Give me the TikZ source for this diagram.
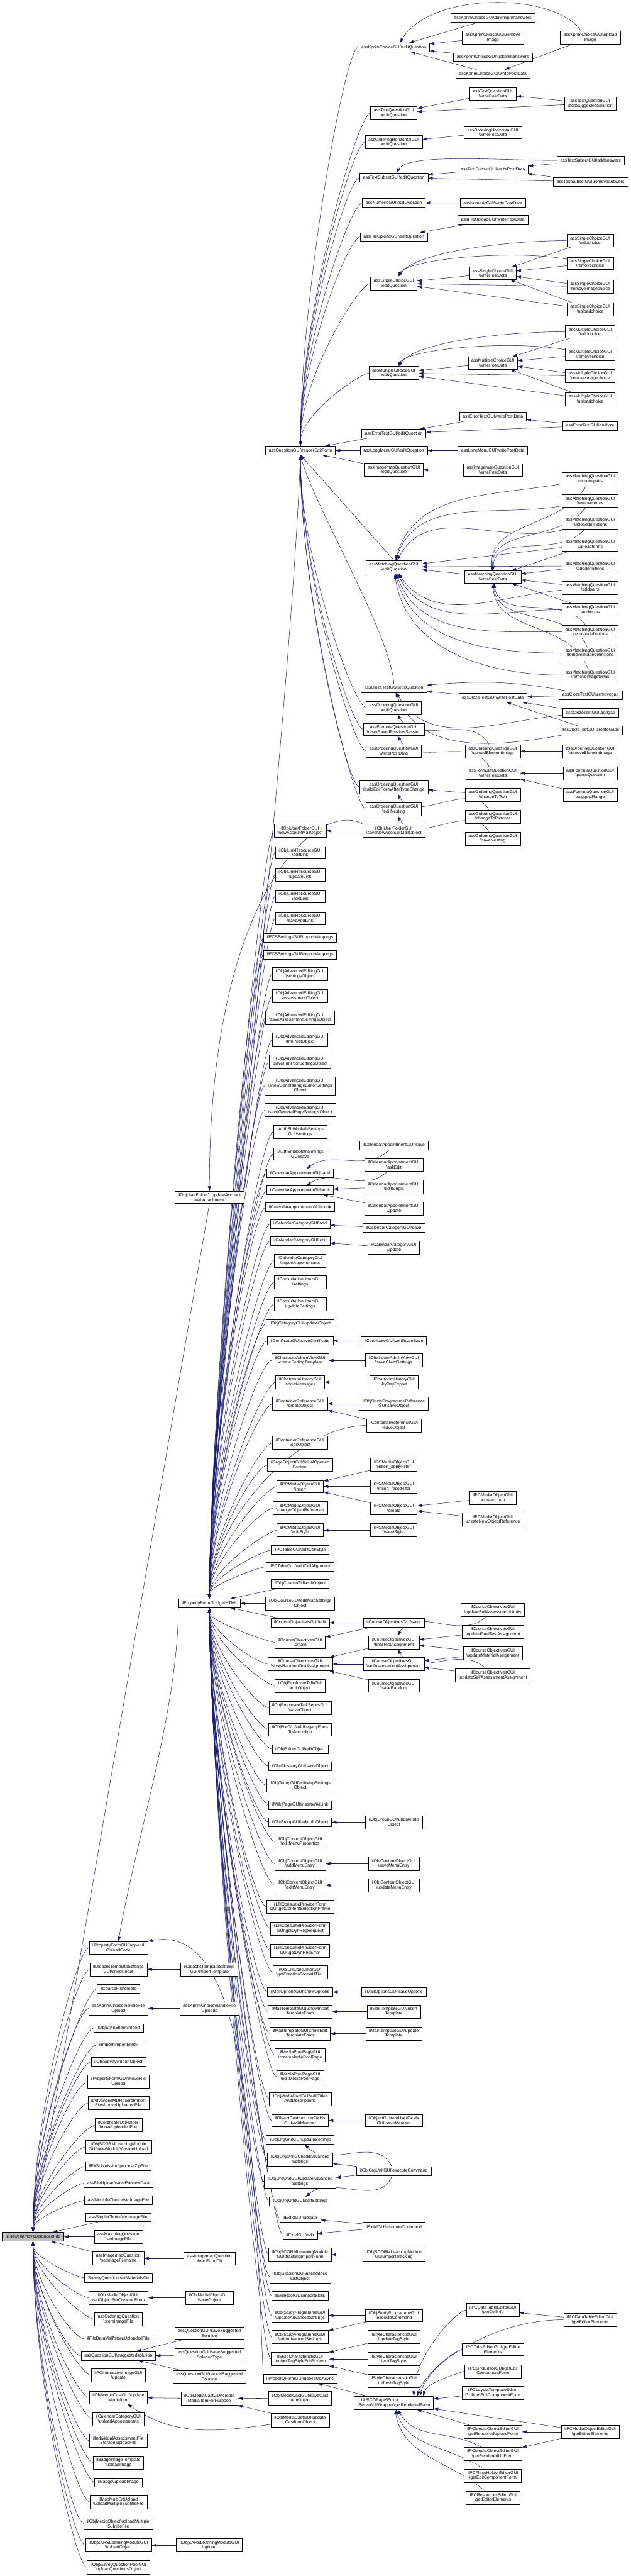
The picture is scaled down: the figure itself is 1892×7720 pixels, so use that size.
\documentclass[tikz,border=0pt]{standalone}
\usepackage{fontspec}
\setmainfont{Liberation Sans}
\usetikzlibrary{arrows.meta,backgrounds,calc}
\definecolor{edgeblue}{RGB}{25,25,112}
\newcommand{\bsl}{\textbackslash}

\begin{document}
\begin{tikzpicture}[x=0.5pt, y=0.5pt, line join=round,
  func/.style={draw=black, fill=white, line width=0.5pt, align=center,
    font=\fontsize{6.5}{7.25}\selectfont, inner xsep=5pt, inner ysep=3.25pt, minimum height=13pt},
  rootfunc/.style={func, fill=black!25},
  call/.style={draw=edgeblue, line width=0.5pt, -{Triangle[length=7pt,width=4.5pt]}},
  fromabove/.style={to path={.. controls +(-40,-8) and ($(\tikztotarget)+(0,#1)$) .. (\tikztotarget)}},
  frombelow/.style={to path={.. controls +(-40,8) and ($(\tikztotarget)+(0,-#1)$) .. (\tikztotarget)}}]
  \useasboundingbox (0,0) rectangle (1892,-7720);

  % ========================================================
  % 1. QUESTION EDITORS (top right)
  % ========================================================
  \node[func] (kDown)   at (1478,-54)  {assKprimChoiceGUI\bsl downkprimanswers};
  \node[func] (kRemove) at (1478,-112) {assKprimChoiceGUI\bsl remove\\Image};
  \node[func] (kUpload) at (1770,-112) {assKprimChoiceGUI\bsl upload\\Image};
  \node[func] (kEdit)   at (1181,-142) {assKprimChoiceGUI\bsl editQuestion};
  \node[func] (kUp)     at (1478,-171) {assKprimChoiceGUI\bsl upkprimanswers};
  \node[func] (kWrite)  at (1478,-222) {assKprimChoiceGUI\bsl writePostData};

  \node[func] (tqWrite) at (1478,-281) {assTextQuestionGUI\\\bsl writePostData};
  \node[func] (tqAdd)   at (1770,-310) {assTextQuestionGUI\\\bsl addSuggestedSolution};
  \node[func] (tqEdit)  at (1181,-338) {assTextQuestionGUI\\\bsl editQuestion};

  \node[func] (ohWrite) at (1478,-397) {assOrderingHorizontalGUI\\\bsl writePostData};
  \node[func] (ohEdit)  at (1181,-426) {assOrderingHorizontalGUI\\\bsl editQuestion};

  \node[func] (tsAdd)    at (1771,-481) {assTextSubsetGUI\bsl addanswers};
  \node[func] (tsWrite)  at (1478,-507) {assTextSubsetGUI\bsl writePostData};
  \node[func] (tsEdit)   at (1181,-532) {assTextSubsetGUI\bsl editQuestion};
  \node[func] (tsRemove) at (1771,-545) {assTextSubsetGUI\bsl removeanswers};

  \node[func] (nuEdit)  at (1181,-608) {assNumericGUI\bsl editQuestion};
  \node[func] (nuWrite) at (1478,-608) {assNumericGUI\bsl writePostData};

  \node[func] (fuWrite) at (1478,-659) {assFileUploadGUI\bsl writePostData};
  \node[func] (fuEdit)  at (1181,-710) {assFileUploadGUI\bsl editQuestion};

  \node[func] (scAdd)    at (1770,-721) {assSingleChoiceGUI\\\bsl addchoice};
  \node[func] (scRemove) at (1770,-789) {assSingleChoiceGUI\\\bsl removechoice};
  \node[func] (scWrite)  at (1478,-819) {assSingleChoiceGUI\\\bsl writePostData};
  \node[func] (scEdit)   at (1181,-849) {assSingleChoiceGUI\\\bsl editQuestion};
  \node[func] (scRemImg) at (1770,-859) {assSingleChoiceGUI\\\bsl removeimagechoice};
  \node[func] (scUpload) at (1770,-927) {assSingleChoiceGUI\\\bsl uploadchoice};

  \node[func] (mcAdd)    at (1770,-994)  {assMultipleChoiceGUI\\\bsl addchoice};
  \node[func] (mcRemove) at (1770,-1061) {assMultipleChoiceGUI\\\bsl removechoice};
  \node[func] (mcWrite)  at (1478,-1088) {assMultipleChoiceGUI\\\bsl writePostData};
  \node[func] (mcEdit)   at (1181,-1118) {assMultipleChoiceGUI\\\bsl editQuestion};
  \node[func] (mcRemImg) at (1770,-1127) {assMultipleChoiceGUI\\\bsl removeimagechoice};
  \node[func] (mcUpload) at (1770,-1196) {assMultipleChoiceGUI\\\bsl uploadchoice};

  \node[func] (etWrite)   at (1478,-1248) {assErrorTextGUI\bsl writePostData};
  \node[func] (etAnalyze) at (1770,-1276) {assErrorTextGUI\bsl analyze};
  \node[func] (etEdit)    at (1181,-1299) {assErrorTextGUI\bsl editQuestion};

  \node[func] (renderEF) at (901,-1350)  {assQuestionGUI\bsl renderEditForm};
  \node[func] (lmEdit)   at (1181,-1350) {assLongMenuGUI\bsl editQuestion};
  \node[func] (lmWrite)  at (1478,-1350) {assLongMenuGUI\bsl writePostData};
  \node[func] (imEdit)   at (1181,-1408) {assImagemapQuestionGUI\\\bsl editQuestion};
  \node[func] (imWrite)  at (1478,-1408) {assImagemapQuestionGUI\\\bsl writePostData};

  \node[func] (maRemPairs)    at (1770,-1435) {assMatchingQuestionGUI\\\bsl removepairs};
  \node[func] (maRemTerms)    at (1770,-1501) {assMatchingQuestionGUI\\\bsl removeterms};
  \node[func] (maUpDefs)      at (1770,-1566) {assMatchingQuestionGUI\\\bsl uploaddefinitions};
  \node[func] (maUpTerms)     at (1770,-1631) {assMatchingQuestionGUI\\\bsl uploadterms};
  \node[func] (maAddDefs)     at (1770,-1696) {assMatchingQuestionGUI\\\bsl adddefinitions};
  \node[func] (maAddPairs)    at (1770,-1761) {assMatchingQuestionGUI\\\bsl addpairs};
  \node[func] (maAddTerms)    at (1770,-1827) {assMatchingQuestionGUI\\\bsl addterms};
  \node[func] (maRemDefs)     at (1770,-1893) {assMatchingQuestionGUI\\\bsl removedefinitions};
  \node[func] (maRemImgDefs)  at (1770,-1957) {assMatchingQuestionGUI\\\bsl removeimagedefinitions};
  \node[func] (maRemImgTerms) at (1770,-2023) {assMatchingQuestionGUI\\\bsl removeimageterms};
  \node[func] (maEdit)  at (1181,-1699) {assMatchingQuestionGUI\\\bsl editQuestion};
  \node[func] (maWrite) at (1478,-1729) {assMatchingQuestionGUI\\\bsl writePostData};

  \node[func] (czEdit)   at (1181,-2062) {assClozeTestGUI\bsl editQuestion};
  \node[func] (czRemGap) at (1771,-2083) {assClozeTestGUI\bsl removegap};
  \node[func] (czWrite)  at (1478,-2091) {assClozeTestGUI\bsl writePostData};
  \node[func] (czAddGap) at (1771,-2136) {assClozeTestGUI\bsl addgap};
  \node[func] (czCreate) at (1771,-2188) {assClozeTestGUI\bsl createGaps};

  \node[func] (oqEdit)     at (1181,-2121) {assOrderingQuestionGUI\\\bsl editQuestion};
  \node[func] (fqReset)    at (1181,-2186) {assFormulaQuestionGUI\\\bsl resetSavedPreviewSession};
  \node[func] (oqWrite)    at (1181,-2251) {assOrderingQuestionGUI\\\bsl writePostData};
  \node[func] (oqUpImg)    at (1478,-2251) {assOrderingQuestionGUI\\\bsl uploadElementImage};
  \node[func] (oqRemImg)   at (1770,-2251) {assOrderingQuestionGUI\\\bsl removeElementImage};
  \node[func] (fqWrite)    at (1478,-2317) {assFormulaQuestionGUI\\\bsl writePostData};
  \node[func] (fqParse)    at (1770,-2317) {assFormulaQuestionGUI\\\bsl parseQuestion};
  \node[func] (oqBuild)    at (1181,-2359) {assOrderingQuestionGUI\\\bsl buildEditFormAfterTypeChange};
  \node[func] (oqToText)   at (1478,-2382) {assOrderingQuestionGUI\\\bsl changeToText};
  \node[func] (fqSuggest)  at (1770,-2382) {assFormulaQuestionGUI\\\bsl suggestRange};
  \node[func] (oqEditNest) at (1181,-2425) {assOrderingQuestionGUI\\\bsl editNesting};
  \node[func] (oqToPics)   at (1478,-2447) {assOrderingQuestionGUI\\\bsl changeToPictures};
  \node[func] (oqSaveNest) at (1478,-2513) {assOrderingQuestionGUI\\\bsl saveNesting};

  % ========================================================
  % 2. CALLERS OF getHTML (middle column)
  % ========================================================
  \node[func] (ufNewMail)  at (900,-2490)  {ilObjUserFolderGUI\\\bsl newAccountMailObject};
  \node[func] (ufSaveMail) at (1181,-2490) {ilObjUserFolderGUI\\\bsl saveNewAccountMailObject};
  \node[func] (lrEdit)    at (900,-2555) {ilObjLinkResourceGUI\\\bsl editLink};
  \node[func] (lrUpdate)  at (900,-2621) {ilObjLinkResourceGUI\\\bsl updateLink};
  \node[func] (lrAdd)     at (900,-2686) {ilObjLinkResourceGUI\\\bsl addLink};
  \node[func] (lrSaveAdd) at (900,-2752) {ilObjLinkResourceGUI\\\bsl saveAddLink};
  \node[func] (ecsImport) at (900,-2810) {ilECSSettingsGUI\bsl importMappings};
  \node[func] (ecsExport) at (900,-2861) {ilECSSettingsGUI\bsl exportMappings};
  \node[func] (aeSettings)   at (900,-2919) {ilObjAdvancedEditingGUI\\\bsl settingsObject};
  \node[func] (aeAssess)     at (900,-2985) {ilObjAdvancedEditingGUI\\\bsl assessmentObject};
  \node[func] (aeSaveAssess) at (900,-3050) {ilObjAdvancedEditingGUI\\\bsl saveAssessmentSettingsObject};
  \node[func] (aeFrmPost)    at (900,-3115) {ilObjAdvancedEditingGUI\\\bsl frmPostObject};
  \node[func] (aeSaveFrm)    at (900,-3181) {ilObjAdvancedEditingGUI\\\bsl saveFrmPostSettingsObject};
  \node[func] (aeShowGP)     at (900,-3254) {ilObjAdvancedEditingGUI\\\bsl showGeneralPageEditorSettings\\Object};
  \node[func] (aeSaveGP)     at (900,-3327) {ilObjAdvancedEditingGUI\\\bsl saveGeneralPageSettingsObject};
  \node[func] (shibSettings) at (900,-3392) {ilAuthShibbolethSettings\\GUI\bsl settings};
  \node[func] (shibSave)     at (900,-3458) {ilAuthShibbolethSettings\\GUI\bsl save};

  \node[func] (caSave)       at (1181,-3432) {ilCalendarAppointmentGUI\bsl save};
  \node[func] (caAskEdit)    at (1181,-3491) {ilCalendarAppointmentGUI\\\bsl askEdit};
  \node[func] (caAdd)        at (900,-3516)  {ilCalendarAppointmentGUI\bsl add};
  \node[func] (caEditSingle) at (1181,-3557) {ilCalendarAppointmentGUI\\\bsl editSingle};
  \node[func] (caEdit)       at (900,-3567)  {ilCalendarAppointmentGUI\bsl edit};
  \node[func] (ufUpdAttach)  at (628,-3588)  {ilObjUserFolder\bsl\_updateAccount\\MailAttachment};
  \node[func] (caBook)       at (900,-3618)  {ilCalendarAppointmentGUI\bsl book};
  \node[func] (caUpdate)     at (1181,-3622) {ilCalendarAppointmentGUI\\\bsl update};
  \node[func] (ccAdd)    at (900,-3668)  {ilCalendarCategoryGUI\bsl add};
  \node[func] (ccSave)   at (1181,-3680) {ilCalendarCategoryGUI\bsl save};
  \node[func] (ccEdit)   at (900,-3719)  {ilCalendarCategoryGUI\bsl edit};
  \node[func] (ccUpdate) at (1181,-3739) {ilCalendarCategoryGUI\\\bsl update};
  \node[func] (ccImport) at (900,-3778)  {ilCalendarCategoryGUI\\\bsl importAppointments};
  \node[func] (chSettings) at (900,-3843) {ilConsultationHoursGUI\\\bsl settings};
  \node[func] (chUpdate)   at (900,-3908) {ilConsultationHoursGUI\\\bsl updateSettings};
  \node[func] (catUpdate)  at (900,-3967) {ilObjCategoryGUI\bsl updateObject};
  \node[func] (certSave)     at (900,-4018)  {ilCertificateGUI\bsl saveCertificate};
  \node[func] (certCertSave) at (1181,-4018) {ilCertificateGUI\bsl certificateSave};
  \node[func] (chatCreate)     at (900,-4077)  {ilChatroomAdminViewGUI\\\bsl createSettingTemplate};
  \node[func] (chatSaveClient) at (1181,-4077) {ilChatroomAdminViewGUI\\\bsl saveClientSettings};
  \node[func] (chatShow)  at (900,-4142)  {ilChatroomHistoryGUI\\\bsl showMessages};
  \node[func] (chatByDay) at (1181,-4142) {ilChatroomHistoryGUI\\\bsl byDayExport};
  \node[func] (crCreate)  at (900,-4207)  {ilContainerReferenceGUI\\\bsl createObject};
  \node[func] (spRefSave) at (1181,-4207) {ilObjStudyProgrammeReference\\GUI\bsl saveObject};
  \node[func] (crSave)    at (1181,-4272) {ilContainerReferenceGUI\\\bsl saveObject};
  \node[func] (crEdit)    at (900,-4324)  {ilContainerReferenceGUI\\\bsl editObject};
  \node[func] (pgInitial) at (900,-4390)  {ilPageObjectGUI\bsl initialOpened\\Content};
  \node[func] (pcmoApply)     at (1181,-4390) {ilPCMediaObjectGUI\\\bsl insert\_applyFilter};
  \node[func] (pcmoInsert)    at (900,-4455)  {ilPCMediaObjectGUI\\\bsl insert};
  \node[func] (pcmoReset)     at (1181,-4455) {ilPCMediaObjectGUI\\\bsl insert\_resetFilter};
  \node[func] (pcmoCreateMob) at (1478,-4489) {ilPCMediaObjectGUI\\\bsl create\_mob};
  \node[func] (pcmoCreate)    at (1181,-4520) {ilPCMediaObjectGUI\\\bsl create};
  \node[func] (pcmoChange)    at (900,-4520)  {ilPCMediaObjectGUI\\\bsl changeObjectReference};
  \node[func] (pcmoNewRef)    at (1478,-4554) {ilPCMediaObjectGUI\\\bsl createNewObjectReference};
  \node[func] (pcmoEditStyle) at (900,-4586)  {ilPCMediaObjectGUI\\\bsl editStyle};
  \node[func] (pcmoSaveStyle) at (1181,-4586) {ilPCMediaObjectGUI\\\bsl saveStyle};
  \node[func] (pctCellStyle) at (900,-4645) {ilPCTableGUI\bsl editCellStyle};
  \node[func] (pctCellAlign) at (900,-4695) {ilPCTableGUI\bsl editCellAlignment};
  \node[func] (crsEdit)      at (900,-4746) {ilObjCourseGUI\bsl editObject};

  \node[func] (getHTML)    at (628,-4805) {ilPropertyFormGUI\bsl getHTML};
  \node[func] (crsEditMap) at (900,-4805) {ilObjCourseGUI\bsl editMapSettings\\Object};

  \node[func] (coLimits)     at (1478,-4824) {ilCourseObjectivesGUI\\\bsl updateSelfAssessmentLimits};
  \node[func] (coEdit)       at (900,-4863)  {ilCourseObjectivesGUI\bsl edit};
  \node[func] (coSave)       at (1181,-4863) {ilCourseObjectivesGUI\bsl save};
  \node[func] (coFinalUpd)   at (1478,-4890) {ilCourseObjectivesGUI\\\bsl updateFinalTestAssignment};
  \node[func] (coCreate)     at (900,-4922)  {ilCourseObjectivesGUI\\\bsl create};
  \node[func] (coFinal)      at (1181,-4922) {ilCourseObjectivesGUI\\\bsl finalTestAssignment};
  \node[func] (coMaterial)   at (1478,-4955) {ilCourseObjectivesGUI\\\bsl updateMaterialAssignment};
  \node[func] (coShowRandom) at (900,-4987)  {ilCourseObjectivesGUI\\\bsl showRandomTestAssignment};
  \node[func] (coSelf)       at (1181,-4987) {ilCourseObjectivesGUI\\\bsl selfAssessmentAssignment};
  \node[func] (coSelfUpd)    at (1478,-5021) {ilCourseObjectivesGUI\\\bsl updateSelfAssessmentAssignment};
  \node[func] (coSaveRandom) at (1181,-5052) {ilCourseObjectivesGUI\\\bsl saveRandom};
  \node[func] (etkEdit)      at (900,-5052)  {ilObjEmployeeTalkGUI\\\bsl editObject};
  \node[func] (etsSave)      at (900,-5118)  {ilObjEmployeeTalkSeriesGUI\\\bsl saveObject};
  \node[func] (fileLegacy)   at (900,-5183)  {ilObjFileGUI\bsl addLegacyForm\\ToAccordion};
  \node[func] (folderEdit)   at (900,-5242)  {ilObjFolderGUI\bsl editObject};
  \node[func] (glossSave)    at (900,-5293)  {ilObjGlossaryGUI\bsl saveObject};
  \node[func] (grpEditMap)   at (900,-5351)  {ilObjGroupGUI\bsl editMapSettings\\Object};
  \node[func] (wikiLink)     at (900,-5409)  {ilWikiPageGUI\bsl insertWikiLink};
  \node[func] (grpEditInfo)  at (900,-5461)  {ilObjGroupGUI\bsl editInfoObject};
  \node[func] (grpUpdInfo)   at (1181,-5461) {ilObjGroupGUI\bsl updateInfo\\Object};
  \node[func] (cobEditProps) at (900,-5519)  {ilObjContentObjectGUI\\\bsl editMenuProperties};
  \node[func] (cobAddEntry)  at (900,-5585)  {ilObjContentObjectGUI\\\bsl addMenuEntry};
  \node[func] (cobSaveEntry) at (1181,-5585) {ilObjContentObjectGUI\\\bsl saveMenuEntry};
  \node[func] (cobEditEntry) at (900,-5650)  {ilObjContentObjectGUI\\\bsl editMenuEntry};
  \node[func] (cobUpdEntry)  at (1181,-5650) {ilObjContentObjectGUI\\\bsl updateMenuEntry};
  \node[func] (ltiSelFrame)  at (900,-5715)  {ilLTIConsumeProviderForm\\GUI\bsl getContentSelectionFrame};
  \node[func] (ltiRegReq)    at (900,-5780)  {ilLTIConsumeProviderForm\\GUI\bsl getDynRegRequest};
  \node[func] (ltiRegErr)    at (900,-5846)  {ilLTIConsumeProviderForm\\GUI\bsl getDynRegError};
  \node[func] (ltiCreation)  at (900,-5911)  {ilObjLTIConsumerGUI\\\bsl getCreationFormsHTML};
  \node[func] (mailShow)     at (900,-5970)  {ilMailOptionsGUI\bsl showOptions};
  \node[func] (mailSave)     at (1181,-5970) {ilMailOptionsGUI\bsl saveOptions};
  \node[func] (mtShowInsert) at (900,-6028)  {ilMailTemplateGUI\bsl showInsert\\TemplateForm};
  \node[func] (mtInsert)     at (1181,-6028) {ilMailTemplateGUI\bsl insert\\Template};
  \node[func] (mtShowEdit)   at (900,-6094)  {ilMailTemplateGUI\bsl showEdit\\TemplateForm};
  \node[func] (mtUpdate)     at (1181,-6094) {ilMailTemplateGUI\bsl update\\Template};
  \node[func] (mpCreate)     at (900,-6159)  {ilMediaPoolPageGUI\\\bsl createMediaPoolPage};
  \node[func] (mpEdit)       at (900,-6224)  {ilMediaPoolPageGUI\\\bsl editMediaPoolPage};
  \node[func] (mpTitles)     at (900,-6290)  {ilObjMediaPoolGUI\bsl editTitles\\AndDescriptions};
  \node[func] (cufEdit)      at (900,-6355)  {ilObjectCustomUserFields\\GUI\bsl editMember};
  \node[func] (cufSave)      at (1181,-6355) {ilObjectCustomUserFields\\GUI\bsl saveMember};
  \node[func] (ouUpdSet)     at (900,-6413)  {ilObjOrgUnitGUI\bsl updateSettings};
  \node[func] (ouEditAdv)    at (900,-6472)  {ilObjOrgUnitGUI\bsl editAdvanced\\Settings};
  \node[func] (ouExec)       at (1181,-6506) {ilObjOrgUnitGUI\bsl executeCommand};
  \node[func] (ouUpdAdv)     at (900,-6538)  {ilObjOrgUnitGUI\bsl updateAdvanced\\Settings};
  \node[func] (ouEditSet)    at (900,-6597)  {ilObjOrgUnitGUI\bsl editSettings};
  \node[func] (extUpdate)    at (900,-6647)  {ilExtIdGUI\bsl update};
  \node[func] (extExec)      at (1181,-6673) {ilExtIdGUI\bsl executeCommand};
  \node[func] (extEdit)      at (900,-6698)  {ilExtIdGUI\bsl edit};
  \node[func] (scormTrackForm)   at (900,-6757)  {ilObjSCORMLearningModule\\GUI\bsl trackingImportForm};
  \node[func] (scormImportTrack) at (1181,-6757) {ilObjSCORMLearningModule\\GUI\bsl importTracking};
  \node[func] (sessAttend)   at (900,-6822)  {ilObjSessionGUI\bsl attendance\\ListObject};
  \node[func] (skillImport)  at (900,-6880)  {ilSkillRootGUI\bsl importSkills};
  \node[func] (prgUpdAdv)    at (900,-6939)  {ilObjStudyProgrammeGUI\\\bsl updateAdvancedSettings};
  \node[func] (prgExec)      at (1181,-6939) {ilObjStudyProgrammeGUI\\\bsl executeCommand};
  \node[func] (prgEditAdv)   at (900,-7004)  {ilObjStudyProgrammeGUI\\\bsl editAdvancedSettings};
  \node[func] (stUpdTag)     at (1181,-7004) {ilStyleCharacteristicGUI\\\bsl updateTagStyle};
  \node[func] (stOutput)     at (900,-7070)  {ilStyleCharacteristicGUI\\\bsl outputTagStyleEditScreen};
  \node[func] (stEditTag)    at (1181,-7070) {ilStyleCharacteristicGUI\\\bsl editTagStyle};
  \node[func] (stRefresh)    at (1181,-7135) {ilStyleCharacteristicGUI\\\bsl refreshTagStyle};

  % ========================================================
  % 3. PAGE EDITOR FORMS (bottom right)
  % ========================================================
  \node[func] (dtCellInfo)     at (1478,-6923) {ilPCDataTableEditorGUI\\\bsl getCellInfo};
  \node[func] (dtEditorEl)     at (1770,-6952) {ilPCDataTableEditorGUI\\\bsl getEditorElements};
  \node[func] (tabsEditorEl)   at (1478,-7041) {ilPCTabsEditorGUI\bsl getEditor\\Elements};
  \node[func] (gridEditForm)   at (1478,-7106) {ilPCGridEditorGUI\bsl getEdit\\ComponentForm};
  \node[func] (getHTMLAsync)   at (900,-7129)  {ilPropertyFormGUI\bsl getHTMLAsync};
  \node[func] (layoutEditForm) at (1478,-7171) {ilPCLayoutTemplateEditor\\GUI\bsl getEditComponentForm};
  \node[func, align=left] (uiRendered) at (1181,-7201) {ILIAS\bsl COPage\bsl Editor\\\bsl Server\bsl UIWrapper\bsl getRenderedForm};
  \node[func] (mcsSaveCast)    at (900,-7187)  {ilObjMediaCastGUI\bsl saveCast\\ItemObject};
  \node[func] (mcsUpdCast)     at (900,-7253)  {ilObjMediaCastGUI\bsl update\\CastItemObject};
  \node[func] (moeUpload)      at (1478,-7288) {ilPCMediaObjectEditorGUI\\\bsl getRenderedUploadForm};
  \node[func] (moeEditorEl)    at (1770,-7288) {ilPCMediaObjectEditorGUI\\\bsl getEditorElements};
  \node[func] (moeUrl)         at (1478,-7354) {ilPCMediaObjectEditorGUI\\\bsl getRenderedUrlForm};
  \node[func] (phEditForm)     at (1478,-7419) {ilPCPlaceHolderEditorGUI\\\bsl getEditComponentForm};
  \node[func] (resEditorEl)    at (1478,-7485) {ilPCResourcesEditorGUI\\\bsl getEditorElements};

  % ========================================================
  % 4. DIRECT CALLERS OF THE ROOT (left)
  % ========================================================
  \node[func] (appendOnload)  at (355,-5837) {ilPropertyFormGUI\bsl append\\OnloadCode};
  \node[func] (dtCheck)       at (355,-5902) {ilDidacticTemplateSettings\\GUI\bsl checkInput};
  \node[func] (dtImport)      at (628,-5902) {ilDidacticTemplateSettings\\GUI\bsl importTemplate};
  \node[func] (crsFileCreate) at (355,-5960) {ilCourseFile\bsl create};
  \node[func] (kpHandle)      at (355,-6019) {assKprimChoice\bsl handleFile\\Upload};
  \node[func] (kpHandles)     at (628,-6019) {assKprimChoice\bsl handleFile\\Uploads};
  \node[func] (ssImport)      at (355,-6078) {ilObjStyleSheet\bsl import};
  \node[func] (impEntity)     at (355,-6129) {ilImport\bsl importEntity};
  \node[func] (svImport)      at (355,-6179) {ilObjSurvey\bsl importObject};
  \node[func] (pfMoveFile)    at (355,-6238) {ilPropertyFormGUI\bsl moveFile\\Upload};
  \node[func] (amdMove)       at (355,-6303) {ilAdvancedMDRecordImport\\Files\bsl moveUploadedFile};
  \node[func] (certUtilMove)  at (355,-6369) {ilCertificateUtilHelper\\\bsl moveUploadedFile};
  \node[func] (scormNewVer)   at (355,-6434) {ilObjSCORMLearningModule\\GUI\bsl newModuleVersionUpload};
  \node[func] (exZip)         at (355,-6492) {ilExSubmission\bsl processZipFile};
  \node[func] (fuSavePrev)    at (355,-6543) {assFileUpload\bsl savePreviewData};
  \node[func] (mcSetImg)      at (355,-6594) {assMultipleChoice\bsl setImageFile};
  \node[func] (scSetImg)      at (355,-6645) {assSingleChoice\bsl setImageFile};
  \node[rootfunc] (root)      at (99,-6703)  {ilFileUtils\bsl moveUploadedFile};
  \node[func] (maSetImg)      at (355,-6703) {assMatchingQuestion\\\bsl setImageFile};
  \node[func] (imSetImg)      at (355,-6768) {assImagemapQuestion\\\bsl setImageFilename};
  \node[func] (imLoad)        at (628,-6768) {assImagemapQuestion\\\bsl loadFromDb};
  \node[func] (sqMaterials)   at (355,-6827) {SurveyQuestion\bsl setMaterialsfile};
  \node[func] (moSetCreation) at (355,-6886) {ilObjMediaObjectGUI\\\bsl setObjectPerCreationForm};
  \node[func] (moSave)        at (628,-6886) {ilObjMediaObjectGUI\\\bsl saveObject};
  \node[func] (oqStoreImg)    at (355,-6951) {assOrderingQuestion\\\bsl storeImageFile};
  \node[func] (qSaveSug)      at (628,-6992) {assQuestionGUI\bsl saveSuggested\\Solution};
  \node[func] (fdmStore)      at (355,-7009) {ilFileDataMail\bsl storeUploadedFile};
  \node[func] (qSaveSugType)  at (628,-7058) {assQuestionGUI\bsl saveSuggested\\SolutionType};
  \node[func] (qSuggested)    at (355,-7060) {assQuestionGUI\bsl suggestedsolution};
  \node[func] (pciUpdate)     at (355,-7119) {ilPCInteractiveImageGUI\\\bsl update};
  \node[func] (qCancelSug)    at (628,-7123) {assQuestionGUI\bsl cancelSuggested\\Solution};
  \node[func] (mcsUpdItem)    at (355,-7185) {ilObjMediaCastGUI\bsl update\\MediaItem};
  \node[func] (mcsCreateItem) at (628,-7188) {ilObjMediaCastGUI\bsl create\\MediaItemForPurpose};
  \node[func] (ccUpload)      at (355,-7250) {ilCalendarCategoryGUI\\\bsl uploadAppointments};
  \node[func] (iaUpload)      at (355,-7315) {ilIndividualAssessmentFile\\Storage\bsl uploadFile};
  \node[func] (bitUpload)     at (355,-7380) {ilBadgeImageTemplate\\\bsl uploadImage};
  \node[func] (badgeUpload)   at (355,-7439) {ilBadge\bsl uploadImage};
  \node[func] (msrtUpload)    at (355,-7498) {ilMobMultiSrtUpload\\\bsl uploadMultipleSubtitleFile};
  \node[func] (moUploadSub)   at (355,-7563) {ilObjMediaObject\bsl uploadMultiple\\SubtitleFile};
  \node[func] (sahsUploadObj) at (355,-7628) {ilObjSAHSLearningModuleGUI\\\bsl uploadObject};
  \node[func] (sahsUpload)    at (628,-7628) {ilObjSAHSLearningModuleGUI\\\bsl upload};
  \node[func] (sqpUpload)     at (355,-7694) {ilObjSurveyQuestionPoolGUI\\\bsl uploadQuestionsObject};

  \begin{scope}[on background layer]
  % ========================================================
  % 5. CALL EDGES, QUESTION EDITORS
  % ========================================================
  \draw[call] (kDown) -- (kEdit);
  \draw[call] (kRemove) -- (kEdit);
  \draw[call] (kUp) -- (kEdit);
  \draw[call] (kWrite) -- (kEdit);
  \draw[call] (kUpload) -- (kWrite);
  \draw[call] ([xshift=-14pt]kUpload.north) .. controls (1660,25) and (1290,25) .. ([xshift=9pt]kEdit.north);
  \draw[call] (tqWrite) -- (tqEdit);
  \draw[call] (tqAdd) -- (tqWrite);
  \draw[call] (tqAdd) -- (tqEdit);
  \draw[call] (ohWrite) -- (ohEdit);
  \draw[call] (tsAdd) -- (tsWrite);
  \draw[call] (tsWrite) -- (tsEdit);
  \draw[call] (tsRemove) -- (tsWrite);
  \draw[call] (tsRemove) -- (tsEdit);
  \draw[call] (tsAdd) to[out=180, in=60, out distance=80pt, in distance=35pt] (tsEdit);
  \draw[call] (nuWrite) -- (nuEdit);
  \draw[call] (fuWrite) -- (fuEdit);

  \draw[call] (scAdd) to[out=180, in=55, out distance=90pt, in distance=45pt] (scEdit);
  \draw[call] (scAdd) -- (scWrite);
  \draw[call] (scRemove) to[out=170, in=60, out distance=85pt, in distance=30pt] (scEdit);
  \draw[call] (scRemove) -- (scWrite);
  \draw[call] (scWrite) -- (scEdit);
  \draw[call] (scRemImg) -- (scWrite);
  \draw[call] (scRemImg) -- (scEdit);
  \draw[call] (scUpload) -- (scEdit);
  \draw[call] (scUpload) -- (scWrite);

  \draw[call] (mcAdd) to[out=180, in=55, out distance=90pt, in distance=45pt] (mcEdit);
  \draw[call] (mcAdd) -- (mcWrite);
  \draw[call] (mcRemove) to[out=170, in=60, out distance=85pt, in distance=30pt] (mcEdit);
  \draw[call] (mcRemove) -- (mcWrite);
  \draw[call] (mcWrite) -- (mcEdit);
  \draw[call] (mcRemImg) -- (mcWrite);
  \draw[call] (mcRemImg) -- (mcEdit);
  \draw[call] (mcUpload) -- (mcEdit);
  \draw[call] (mcUpload) -- (mcWrite);

  \draw[call] (etWrite) -- (etEdit);
  \draw[call] (etAnalyze) -- (etWrite);
  \draw[call] (etAnalyze) -- (etEdit);
  \draw[call] (lmWrite) -- (lmEdit);
  \draw[call] (imWrite) -- (imEdit);

  \draw[call] (maRemPairs) to[out=190, in=75] (maEdit);
  \draw[call] (maRemTerms) to[out=190, in=72] (maEdit);
  \draw[call] (maUpDefs) to[out=195, in=62] (maEdit);
  \draw[call] (maUpTerms) -- (maEdit);
  \draw[call] (maAddDefs) -- (maEdit);
  \draw[call] (maRemPairs) to[out=240, in=95] (maWrite);
  \draw[call] (maRemTerms) to[out=235, in=92] (maWrite);
  \draw[call] (maUpDefs) to[out=230, in=88] (maWrite);
  \draw[call] (maUpTerms) -- (maWrite);
  \draw[call] (maAddDefs) -- (maWrite);
  \draw[call] (maAddPairs) -- (maWrite);
  \draw[call] (maAddPairs) to[out=185, in=-55] (maEdit);
  \draw[call] (maAddTerms) -- (maWrite);
  \draw[call] (maAddTerms) to[out=180, in=-62] (maEdit);
  \draw[call] (maRemDefs) to[out=125, in=-80] (maWrite);
  \draw[call] (maRemDefs) to[out=180, in=-70] (maEdit);
  \draw[call] (maRemImgDefs) to[out=115, in=-85] (maWrite);
  \draw[call] (maRemImgDefs) to[out=180, in=-76] (maEdit);
  \draw[call] (maRemImgTerms) to[out=110, in=-88] (maWrite);
  \draw[call] (maRemImgTerms) to[out=180, in=-82] (maEdit);
  \draw[call] (maWrite) -- (maEdit);

  \draw[call] (czRemGap) to[out=170, in=5] (czEdit);
  \draw[call] (czRemGap) -- (czWrite);
  \draw[call] (czWrite) -- (czEdit);
  \draw[call] (czAddGap) -- (czWrite);
  \draw[call] (czAddGap) to[out=185, in=-60] (czEdit);
  \draw[call] (czCreate) -- (czWrite);
  \draw[call] (czCreate) to[out=190, in=-68] (czEdit);

  \draw[call] (oqRemImg) -- (oqUpImg);
  \draw[call] (oqUpImg) to[out=120, in=-60] (oqEdit);
  \draw[call] (fqParse) -- (fqWrite);
  \draw[call] (fqSuggest) -- (fqWrite);
  \draw[call] (fqWrite) to[out=120, in=-60] (fqReset);
  \draw[call] (oqToText) -- (oqBuild);
  \draw[call] (oqToPics) to[out=120, in=-60] (oqBuild);
  \draw[call] (oqSaveNest) to[out=120, in=-60] (oqEditNest);

  % editors into renderEditForm
  \draw[call] (kEdit.west) to[fromabove=450] (renderEF.north);
  \draw[call] (tqEdit.west) to[fromabove=400] (renderEF.north);
  \draw[call] (ohEdit.west) to[fromabove=360] (renderEF.north);
  \draw[call] (tsEdit.west) to[fromabove=320] (renderEF.north);
  \draw[call] (nuEdit.west) to[fromabove=290] (renderEF.north);
  \draw[call] (fuEdit.west) to[fromabove=250] (renderEF.north);
  \draw[call] (scEdit.west) to[fromabove=200] (renderEF.north);
  \draw[call] (mcEdit.west) to[fromabove=90] (renderEF.north);
  \draw[call] (etEdit) -- (renderEF);
  \draw[call] (lmEdit) -- (renderEF);
  \draw[call] (imEdit) -- (renderEF);
  \draw[call] (maEdit.north) -- (renderEF.south);
  \draw[call] (czEdit.north) .. controls +(-10,150) and ($(renderEF.south)+(40,-150)$) .. (renderEF.south);
  \draw[call] (oqEdit.west) to[frombelow=300] (renderEF.south);
  \draw[call] (fqReset.west) to[frombelow=330] (renderEF.south);
  \draw[call] (oqWrite.west) to[frombelow=350] (renderEF.south);
  \draw[call] (oqBuild.west) to[frombelow=400] (renderEF.south);
  \draw[call] (oqEditNest.west) to[frombelow=420] (renderEF.south);

  % ========================================================
  % 6. CALL EDGES INTO getHTML
  % ========================================================
  \draw[call] (renderEF.south) .. controls +(-30,-800) and ($(getHTML.north)+(30,800)$) .. (getHTML.north);
  \draw[call] (ufSaveMail) -- (ufNewMail);
  \draw[call] (ufSaveMail.north west) .. controls +(-130,75) and ($(ufUpdAttach.north)+(0,900)$) .. (ufUpdAttach.north);
  \draw[call] (ufNewMail.west) to[fromabove=500] (getHTML.north);
  \draw[call] (lrEdit.west) to[fromabove=500] (getHTML.north);
  \draw[call] (lrUpdate.west) to[fromabove=500] (getHTML.north);
  \draw[call] (lrAdd.west) to[fromabove=500] (getHTML.north);
  \draw[call] (lrSaveAdd.west) to[fromabove=500] (getHTML.north);
  \draw[call] (ecsImport.west) to[fromabove=500] (getHTML.north);
  \draw[call] (ecsExport.west) to[fromabove=500] (getHTML.north);
  \draw[call] (aeSettings.west) to[fromabove=500] (getHTML.north);
  \draw[call] (aeAssess.west) to[fromabove=500] (getHTML.north);
  \draw[call] (aeSaveAssess.west) to[fromabove=500] (getHTML.north);
  \draw[call] (aeFrmPost.west) to[fromabove=500] (getHTML.north);
  \draw[call] (aeSaveFrm.west) to[fromabove=500] (getHTML.north);
  \draw[call] (aeShowGP.west) to[fromabove=500] (getHTML.north);
  \draw[call] (aeSaveGP.west) to[fromabove=500] (getHTML.north);
  \draw[call] (shibSettings.west) to[fromabove=500] (getHTML.north);
  \draw[call] (shibSave.west) to[fromabove=500] (getHTML.north);
  \draw[call] (caAdd.west) to[fromabove=500] (getHTML.north);
  \draw[call] (caEdit.west) to[fromabove=490] (getHTML.north);
  \draw[call] (caBook.west) to[fromabove=470] (getHTML.north);
  \draw[call] (ccAdd.west) to[fromabove=450] (getHTML.north);
  \draw[call] (ccEdit.west) to[fromabove=430] (getHTML.north);
  \draw[call] (ccImport.west) to[fromabove=405] (getHTML.north);
  \draw[call] (chSettings.west) to[fromabove=380] (getHTML.north);
  \draw[call] (chUpdate.west) to[fromabove=355] (getHTML.north);
  \draw[call] (catUpdate.west) to[fromabove=330] (getHTML.north);
  \draw[call] (certSave.west) to[fromabove=310] (getHTML.north);
  \draw[call] (chatCreate.west) to[fromabove=285] (getHTML.north);
  \draw[call] (chatShow.west) to[fromabove=260] (getHTML.north);
  \draw[call] (crCreate.west) to[fromabove=235] (getHTML.north);
  \draw[call] (crSave.west) .. controls +(-220,0) and ($(getHTML.north)+(0,210)$) .. (getHTML.north);
  \draw[call] (crEdit.west) to[fromabove=185] (getHTML.north);
  \draw[call] (pgInitial.west) to[fromabove=160] (getHTML.north);
  \draw[call] (pcmoInsert.west) to[fromabove=135] (getHTML.north);
  \draw[call] (pcmoChange.west) to[fromabove=110] (getHTML.north);
  \draw[call] (pcmoEditStyle.west) to[fromabove=80] (getHTML.north);
  \draw[call] (pctCellStyle.west) to[fromabove=60] (getHTML.north);
  \draw[call] (pctCellAlign.west) to[fromabove=40] (getHTML.north);
  \draw[call] (crsEdit) -- (getHTML);
  \draw[call] (crsEditMap) -- (getHTML);
  \draw[call] (coEdit) -- (getHTML);
  \draw[call] (coCreate.west) to[frombelow=40] (getHTML.south);
  \draw[call] (coShowRandom.west) to[frombelow=70] (getHTML.south);
  \draw[call] (etkEdit.west) to[frombelow=95] (getHTML.south);
  \draw[call] (etsSave.west) to[frombelow=120] (getHTML.south);
  \draw[call] (fileLegacy.west) to[frombelow=145] (getHTML.south);
  \draw[call] (folderEdit.west) to[frombelow=170] (getHTML.south);
  \draw[call] (glossSave.west) to[frombelow=190] (getHTML.south);
  \draw[call] (grpEditMap.west) to[frombelow=215] (getHTML.south);
  \draw[call] (wikiLink.west) to[frombelow=235] (getHTML.south);
  \draw[call] (grpEditInfo.west) to[frombelow=255] (getHTML.south);
  \draw[call] (cobEditProps.west) to[frombelow=280] (getHTML.south);
  \draw[call] (cobAddEntry.west) to[frombelow=305] (getHTML.south);
  \draw[call] (cobEditEntry.west) to[frombelow=330] (getHTML.south);
  \draw[call] (ltiSelFrame.west) to[frombelow=360] (getHTML.south);
  \draw[call] (ltiRegReq.west) to[frombelow=385] (getHTML.south);
  \draw[call] (ltiRegErr.west) to[frombelow=410] (getHTML.south);
  \draw[call] (ltiCreation.west) to[frombelow=435] (getHTML.south);
  \draw[call] (mailShow.west) to[frombelow=460] (getHTML.south);
  \draw[call] (mtShowInsert.west) to[frombelow=485] (getHTML.south);
  \draw[call] (mtShowEdit.west) to[frombelow=500] (getHTML.south);
  \draw[call] (mpCreate.west) to[frombelow=500] (getHTML.south);
  \draw[call] (mpEdit.west) to[frombelow=500] (getHTML.south);
  \draw[call] (mpTitles.west) to[frombelow=500] (getHTML.south);
  \draw[call] (cufEdit.west) to[frombelow=500] (getHTML.south);
  \draw[call] (ouUpdSet.west) to[frombelow=500] (getHTML.south);
  \draw[call] (ouEditAdv.west) to[frombelow=500] (getHTML.south);
  \draw[call] (ouUpdAdv.west) to[frombelow=500] (getHTML.south);
  \draw[call] (ouEditSet.west) to[frombelow=500] (getHTML.south);
  \draw[call] (extUpdate.west) to[frombelow=500] (getHTML.south);
  \draw[call] (extEdit.west) to[frombelow=500] (getHTML.south);
  \draw[call] (scormTrackForm.west) to[frombelow=500] (getHTML.south);
  \draw[call] (sessAttend.west) to[frombelow=500] (getHTML.south);
  \draw[call] (skillImport.west) to[frombelow=500] (getHTML.south);
  \draw[call] (prgUpdAdv.west) to[frombelow=500] (getHTML.south);
  \draw[call] (prgEditAdv.west) to[frombelow=500] (getHTML.south);
  \draw[call] (stOutput.west) to[frombelow=500] (getHTML.south);

  % callers of the middle column
  \draw[call] (caSave) to[out=225, in=35] (caAdd);
  \draw[call] (caAskEdit) to[out=225, in=35] (caEdit);
  \draw[call] (caEditSingle) -- (caEdit);
  \draw[call] (caUpdate) -- (caEdit);
  \draw[call] (ccSave) -- (ccAdd);
  \draw[call] (ccUpdate) -- (ccEdit);
  \draw[call] (certCertSave) -- (certSave);
  \draw[call] (chatSaveClient) -- (chatCreate);
  \draw[call] (chatByDay) -- (chatShow);
  \draw[call] (spRefSave) -- (crCreate);
  \draw[call] (crSave) -- (crCreate);
  \draw[call] (pcmoApply) -- (pcmoInsert);
  \draw[call] (pcmoReset) -- (pcmoInsert);
  \draw[call] (pcmoCreate) -- (pcmoInsert);
  \draw[call] (pcmoCreateMob) -- (pcmoCreate);
  \draw[call] (pcmoNewRef) -- (pcmoCreate);
  \draw[call] (pcmoSaveStyle) -- (pcmoEditStyle);
  \draw[call] (coSave) -- (coEdit);
  \draw[call] (coSave) -- (coCreate);
  \draw[call] (coLimits) to[out=225, in=60] (coFinal);
  \draw[call] (coFinalUpd) -- (coFinal);
  \draw[call] (coMaterial) -- (coFinal);
  \draw[call] (coMaterial) -- (coSelf);
  \draw[call] (coSelfUpd) -- (coSelf);
  \draw[call] (coSelfUpd) to[out=135, in=-60] (coFinal);
  \draw[call] (coFinal) -- (coShowRandom);
  \draw[call] (coSelf) -- (coShowRandom);
  \draw[call] (coSaveRandom) -- (coShowRandom);
  \draw[call] (grpUpdInfo) -- (grpEditInfo);
  \draw[call] (cobSaveEntry) -- (cobAddEntry);
  \draw[call] (cobUpdEntry) -- (cobEditEntry);
  \draw[call] (mailSave) -- (mailShow);
  \draw[call] (mtInsert) -- (mtShowInsert);
  \draw[call] (mtUpdate) -- (mtShowEdit);
  \draw[call] (cufSave) -- (cufEdit);
  \draw[call] (ouExec) to[out=115, in=-45] (ouUpdSet);
  \draw[call] (ouExec) -- (ouEditAdv);
  \draw[call] (ouExec) -- (ouUpdAdv);
  \draw[call] (ouExec) to[out=-110, in=40] (ouEditSet);
  \draw[call] (extExec) -- (extUpdate);
  \draw[call] (extExec) -- (extEdit);
  \draw[call] (scormImportTrack) -- (scormTrackForm);
  \draw[call] (prgExec) -- (prgUpdAdv);
  \draw[call] (prgExec) -- (prgEditAdv);
  \draw[call] (stUpdTag) -- (stOutput);
  \draw[call] (stEditTag) -- (stOutput);
  \draw[call] (stRefresh) -- (stOutput);

  % ========================================================
  % 7. CALL EDGES, PAGE EDITOR FORMS
  % ========================================================
  \draw[call] (dtEditorEl) -- (dtCellInfo);
  \draw[call] (dtCellInfo.west) .. controls +(-40,-8) and ($(uiRendered.north)+(60,110)$) .. ([xshift=30pt]uiRendered.north);
  \draw[call] (dtEditorEl.west) .. controls +(-220,0) and ($(uiRendered.north)+(100,90)$) .. ([xshift=35pt]uiRendered.north);
  \draw[call] (tabsEditorEl.west) .. controls +(-40,-10) and ($(uiRendered.north)+(95,60)$) .. ([xshift=39pt]uiRendered.north);
  \draw[call] (gridEditForm.west) .. controls +(-30,-10) and ($(uiRendered.north)+(100,40)$) .. ([xshift=44pt]uiRendered.north);
  \draw[call] (layoutEditForm) -- (uiRendered);
  \draw[call] (moeEditorEl) -- (uiRendered);
  \draw[call] (moeEditorEl) -- (moeUpload);
  \draw[call] (moeEditorEl) -- (moeUrl);
  \draw[call] (moeUpload) -- (uiRendered);
  \draw[call] (moeUrl) to[out=150, in=-60] (uiRendered);
  \draw[call] (phEditForm) to[out=145, in=-72] (uiRendered);
  \draw[call] (resEditorEl) to[out=140, in=-80] (uiRendered);
  \draw[call] (uiRendered) -- (getHTMLAsync);
  \draw[call] (mcsCreateItem) -- (mcsUpdItem);
  \draw[call] (mcsSaveCast) -- (mcsCreateItem);
  \draw[call] (mcsUpdCast) -- (mcsCreateItem);
  \draw[call] (mcsUpdCast) to[out=188, in=-35] (mcsUpdItem);

  % ========================================================
  % 8. CALL EDGES INTO THE ROOT
  % ========================================================
  \draw[call] (getHTML.south west) .. controls +(0,-300) and ($(appendOnload.north)+(50,295)$) .. (appendOnload.north);
  \draw[call] (getHTMLAsync.north west) .. controls (760,-6400) and (740,-5760) .. (appendOnload.north east);
  \draw[call] (dtImport) -- (dtCheck);
  \draw[call] (kpHandles) -- (kpHandle);
  \draw[call] (imLoad) -- (imSetImg);
  \draw[call] (moSave) -- (moSetCreation);
  \draw[call] (qSaveSug) -- (qSuggested);
  \draw[call] (qSaveSugType) -- (qSuggested);
  \draw[call] (qCancelSug) -- (qSuggested);
  \draw[call] (sahsUpload) -- (sahsUploadObj);

  \draw[call] (ufUpdAttach.south) -- (root.north);
  \draw[call] (appendOnload.west) to[fromabove=340] (root.north);
  \draw[call] (dtCheck.west) to[fromabove=315] (root.north);
  \draw[call] (crsFileCreate.west) to[fromabove=290] (root.north);
  \draw[call] (kpHandle.west) to[fromabove=270] (root.north);
  \draw[call] (ssImport.west) to[fromabove=245] (root.north);
  \draw[call] (impEntity.west) to[fromabove=225] (root.north);
  \draw[call] (svImport.west) to[fromabove=205] (root.north);
  \draw[call] (pfMoveFile.west) to[fromabove=180] (root.north);
  \draw[call] (amdMove.west) to[fromabove=155] (root.north);
  \draw[call] (certUtilMove.west) to[fromabove=130] (root.north);
  \draw[call] (scormNewVer.west) to[fromabove=100] (root.north);
  \draw[call] (exZip.west) to[fromabove=80] (root.north);
  \draw[call] (fuSavePrev.west) to[fromabove=60] (root.north);
  \draw[call] (mcSetImg.west) to[fromabove=40] (root.north);
  \draw[call] (scSetImg) -- (root);
  \draw[call] (maSetImg) -- (root);
  \draw[call] (imSetImg) -- (root);
  \draw[call] (sqMaterials.west) to[frombelow=45] (root.south);
  \draw[call] (moSetCreation.west) to[frombelow=70] (root.south);
  \draw[call] (oqStoreImg.west) to[frombelow=95] (root.south);
  \draw[call] (fdmStore.west) to[frombelow=115] (root.south);
  \draw[call] (qSuggested.west) to[frombelow=140] (root.south);
  \draw[call] (pciUpdate.west) to[frombelow=160] (root.south);
  \draw[call] (mcsUpdItem.west) to[frombelow=190] (root.south);
  \draw[call] (ccUpload.west) to[frombelow=215] (root.south);
  \draw[call] (iaUpload.west) to[frombelow=240] (root.south);
  \draw[call] (bitUpload.west) to[frombelow=265] (root.south);
  \draw[call] (badgeUpload.west) to[frombelow=290] (root.south);
  \draw[call] (msrtUpload.west) to[frombelow=310] (root.south);
  \draw[call] (moUploadSub.west) to[frombelow=340] (root.south);
  \draw[call] (sahsUploadObj.west) to[frombelow=365] (root.south);
  \draw[call] (sqpUpload.west) to[frombelow=390] (root.south);
  \end{scope}

\end{tikzpicture}
\end{document}
